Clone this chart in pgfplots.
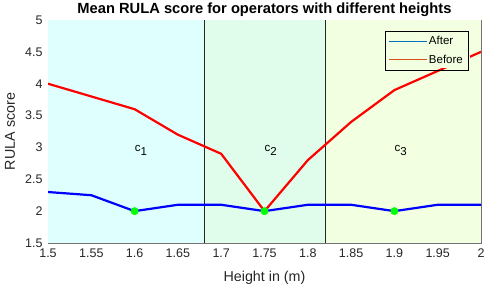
\documentclass[border=0pt]{standalone}
\usepackage{pgfplots}
\pgfplotsset{compat=1.18}
\usepackage{fontspec}
\setmainfont{Liberation Sans}
\definecolor{regA}{RGB}{223,255,255}
\definecolor{regB}{RGB}{224,252,234}
\definecolor{regC}{RGB}{242,255,224}
\definecolor{mblue}{rgb}{0,0.447,0.741}
\definecolor{morange}{rgb}{0.85,0.325,0.098}
\definecolor{axgray}{RGB}{38,38,38}
\begin{document}
\begin{tikzpicture}[x=1pt,y=1pt]
\useasboundingbox (0,0) rectangle (486,286);
\begin{axis}[
  at={(48pt,43pt)}, anchor=south west,
  scale only axis, width=433pt, height=223pt,
  xmin=1.5, xmax=2, ymin=1.5, ymax=5,
  xtick={1.5,1.55,...,2.01}, ytick={1.5,2,...,5},
  xticklabels={1.5,1.55,1.6,1.65,1.7,1.75,1.8,1.85,1.9,1.95,2},
  yticklabels={1.5,2,2.5,3,3.5,4,4.5,5},
  tick align=inside, major tick length=4pt,
  tick style={axgray, line width=0.5pt},
  axis line style={black!55, line width=0.6pt},
  ticklabel style={font=\fontsize{12.5}{14}\selectfont, text=axgray},
  xticklabel style={yshift=-2pt},
  yticklabel style={xshift=-2pt},
  title={\textbf{Mean RULA score for operators with different heights}},
  every axis title/.style={at={(axis description cs:0.5,1)}, anchor=base, yshift=6pt,
     font=\fontsize{14.7}{16}\selectfont},
  xlabel={Height in (m)}, ylabel={RULA score},
  every axis x label/.style={at={(axis description cs:0.5,0)}, anchor=center, yshift=-35pt,
     font=\fontsize{14.3}{16}\selectfont, text=axgray},
  every axis y label/.style={at={(axis description cs:0,0.5)}, anchor=center, rotate=90, yshift=38pt,
     font=\fontsize{14.3}{16}\selectfont, text=axgray},
  legend style={at={(0.97,0.951)}, anchor=north east, fill=none,
    font=\fontsize{11.5}{13}\selectfont, inner sep=3pt, row sep=5pt,
    legend cell align=left},
  legend image code/.code={\draw plot coordinates {(0pt,0pt) (19pt,0pt) (38pt,0pt)};},
  clip=true,
]
\addplot[draw=none, fill=regA, forget plot] coordinates {(1.5,5) (1.68,5)} \closedcycle;
\addplot[draw=none, fill=regB, forget plot] coordinates {(1.68,5) (1.82,5)} \closedcycle;
\addplot[draw=none, fill=regC, forget plot] coordinates {(1.82,5) (2,5)} \closedcycle;
\addplot[black!85, line width=0.6pt, forget plot] coordinates {(1.68,1.5) (1.68,5)};
\addplot[black!85, line width=0.6pt, forget plot] coordinates {(1.82,1.5) (1.82,5)};
\addplot[red, line width=2.2pt, forget plot] coordinates {
(1.5,4.0) (1.55,3.8) (1.6,3.6) (1.65,3.2) (1.7,2.9) (1.75,2.0) (1.8,2.8) (1.85,3.4) (1.9,3.9) (1.95,4.2) (2.0,4.5)};
\addplot[blue, line width=2.2pt, forget plot] coordinates {
(1.5,2.3) (1.55,2.25) (1.6,2.0) (1.65,2.1) (1.7,2.1) (1.75,2.0) (1.8,2.1) (1.85,2.1) (1.9,2.0) (1.95,2.1) (2.0,2.1)};
\addplot[only marks, mark=*, mark size=3.7pt, mark options={fill=green, draw=green}, forget plot] coordinates {(1.6,2.0) (1.75,2.0) (1.9,2.0)};
\addplot[draw=none, fill=regC, forget plot] coordinates {(1.886,4.24) (1.987,4.24) (1.987,4.83) (1.886,4.83)} -- cycle;
\node[anchor=west, font=\fontsize{11.5}{13}\selectfont, inner sep=0pt] at (axis cs:1.6,2.95) {c\raisebox{-3.5pt}{1}};
\node[anchor=west, font=\fontsize{11.5}{13}\selectfont, inner sep=0pt] at (axis cs:1.75,2.95) {c\raisebox{-3.5pt}{2}};
\node[anchor=west, font=\fontsize{11.5}{13}\selectfont, inner sep=0pt] at (axis cs:1.9,2.95) {c\raisebox{-3.5pt}{3}};
\addlegendimage{color=mblue, line width=0.8pt}
\addlegendentry{After}
\addlegendimage{color=morange, line width=0.8pt}
\addlegendentry{Before}
\end{axis}
\end{tikzpicture}
\end{document}
